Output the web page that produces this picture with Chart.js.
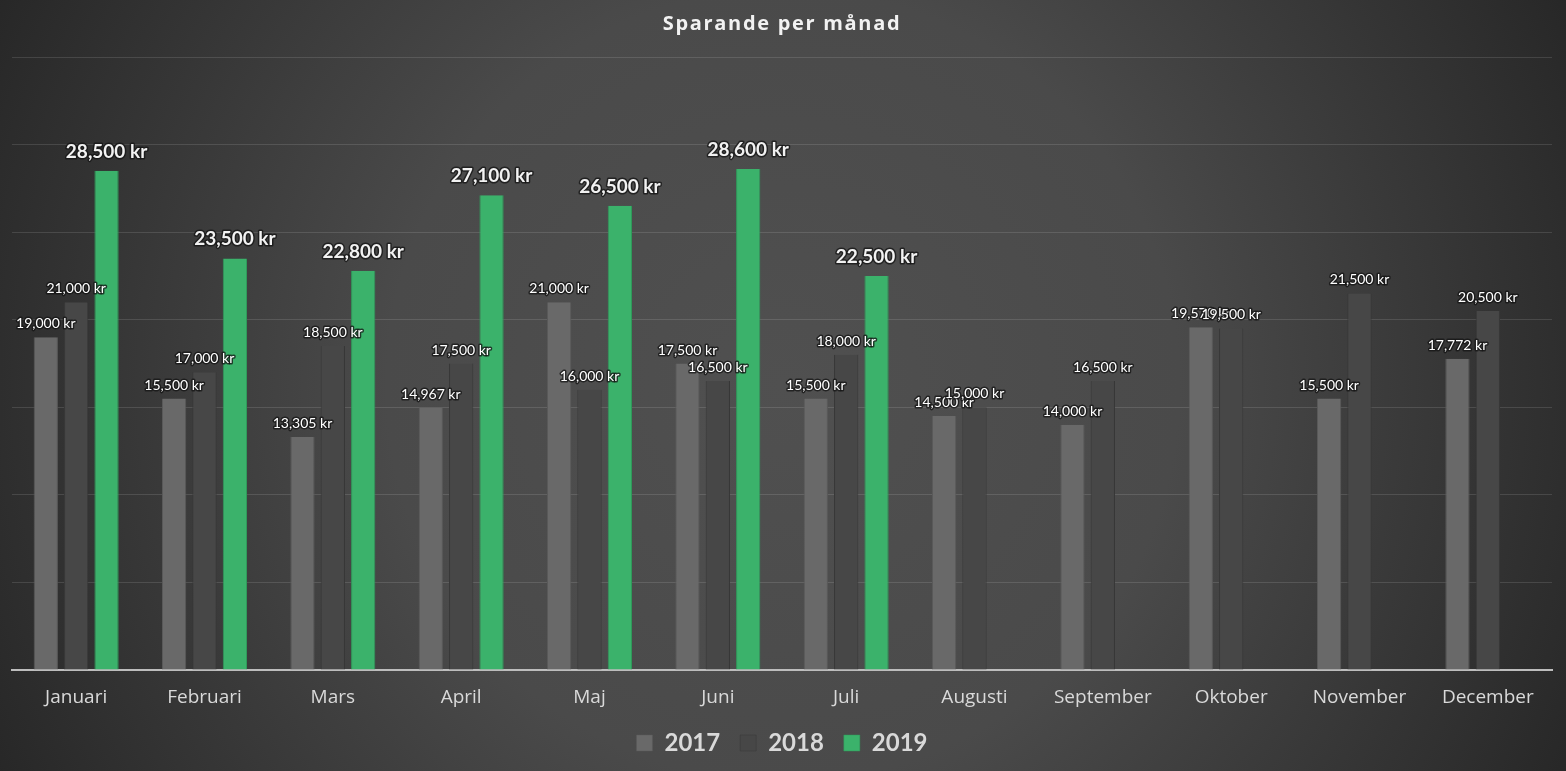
<!DOCTYPE html>
<html>
<head>
<meta charset="utf-8">
<script src="https://cdn.jsdelivr.net/npm/chart.js@4/dist/chart.umd.min.js"></script>
<style>
html,body{margin:0;padding:0;background:#3a3a3a;}
#wrap{width:1566px;height:771px;position:relative;}
</style>
</head>
<body>
<div id="wrap"><canvas id="c" width="1566" height="771"></canvas></div>
<script>
const months = ["Januari","Februari","Mars","April","Maj","Juni","Juli","Augusti","September","Oktober","November","December"];
const years = ["2017","2018","2019"];
const values2017 = [19000,15500,13305,14967,21000,17500,15500,14500,14000,19570,15500,17772];
const values2018 = [21000,17000,18500,17500,16000,16500,18000,15000,16500,19500,21500,20500];
const values2019 = [28500,23500,22800,27100,26500,28600,22500,null,null,null,null,null];
const yMax = 35000;
const yStep = 5000;

const bgPlugin = {
  id: 'bg',
  beforeDraw(chart) {
    const {ctx, width, height} = chart;
    // give the title Excel-like letter spacing
    const tb = chart.titleBlock;
    if (tb && !tb._spaced) {
      const orig = tb.draw.bind(tb);
      tb.draw = function () {
        const c = this.ctx;
        c.save();
        c.letterSpacing = '1.7px';
        orig();
        c.restore();
      };
      tb._spaced = true;
    }
    ctx.save();
    const g = ctx.createRadialGradient(width/2, height/2, 0, width/2, height/2, 880);
    g.addColorStop(0, '#505050');
    g.addColorStop(0.45, '#4a4a4a');
    g.addColorStop(1, '#272727');
    ctx.fillStyle = g;
    ctx.fillRect(0, 0, width, height);
    ctx.restore();
  }
};

const labelPlugin = {
  id: 'valLabels',
  afterDatasetsDraw(chart) {
    const ctx = chart.ctx;
    chart.data.datasets.forEach((ds, di) => {
      const meta = chart.getDatasetMeta(di);
      if (meta.hidden) return;
      const big = di === 2;
      meta.data.forEach((bar, i) => {
        const v = ds.data[i];
        if (v === null || v === undefined) return;
        const txt = v.toLocaleString('en-US') + ' kr';
        ctx.save();
        ctx.font = big ? 'bold 19px Lato' : '14px Lato';
        ctx.textAlign = 'center';
        ctx.textBaseline = 'alphabetic';
        const y = bar.y - (big ? 13 : 9);
        ctx.lineJoin = 'round';
        ctx.lineWidth = 3;
        ctx.strokeStyle = 'rgba(20,20,20,0.75)';
        ctx.strokeText(txt, bar.x, y);
        ctx.fillStyle = big ? '#f2f2f2' : '#ffffff';
        ctx.fillText(txt, bar.x, y);
        ctx.restore();
      });
    });
  }
};

new Chart(document.getElementById('c'), {
  type: 'bar',
  data: {
    labels: months,
    datasets: [
      {label: years[0], data: values2017, backgroundColor: '#696969', borderColor: '#5a5a5a', borderWidth: {left:1,right:1,top:0,bottom:0}},
      {label: years[1], data: values2018, backgroundColor: '#474747', borderColor: '#383838', borderWidth: {left:1,right:1,top:0,bottom:0}},
      {label: years[2], data: values2019, backgroundColor: '#3bb26b', borderColor: '#2f9a5a', borderWidth: {left:1,right:1,top:0,bottom:0}}
    ]
  },
  options: {
    responsive: false,
    animation: false,
    devicePixelRatio: 1,
    categoryPercentage: 0.71,
    barPercentage: 0.8,
    layout: {padding: {left: 12, right: 14, top: 0, bottom: 6}},
    plugins: {
      title: {
        display: true,
        text: 'Sparande per månad',
        color: '#f2f2f2',
        font: {family: 'Open Sans', size: 20, weight: 'bold'},
        padding: {top: 12, bottom: 21}
      },
      legend: {
        position: 'bottom',
        labels: {
          color: '#d9d9d9',
          font: {family: 'Lato', size: 24, weight: 'bold'},
          boxWidth: 16,
          boxHeight: 16,
          padding: 20
        }
      },
      tooltip: {enabled: false}
    },
    scales: {
      x: {
        grid: {display: false, drawTicks: false},
        border: {display: true, color: '#bdbdbd', width: 2},
        ticks: {color: '#d9d9d9', font: {family: 'Open Sans', size: 19}, padding: 16.6},
        afterFit(scale) { scale.height = 41; }
      },
      y: {
        min: 0,
        max: yMax,
        ticks: {display: false, stepSize: yStep},
        grid: {color: 'rgba(255,255,255,0.12)', drawTicks: false},
        border: {display: false}
      }
    }
  },
  plugins: [bgPlugin, labelPlugin]
});
</script>
</body>
</html>
